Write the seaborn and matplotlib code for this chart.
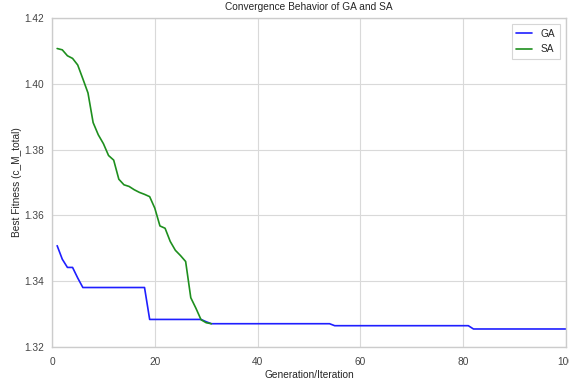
import numpy as np
import pandas as pd
import matplotlib
matplotlib.use("Agg")
import matplotlib.pyplot as plt
import seaborn as sns

# Best fitness per generation (GA) and per iteration (SA)
ga_fitness = (
    [1.3508, 1.3467, 1.3442, 1.3442, 1.3410]
    + [1.3381] * 13
    + [1.3284] * 11
    + [1.3277]
    + [1.3271] * 24
    + [1.3265] * 27
    + [1.3255] * 19
)
sa_fitness = [
    1.4107, 1.4103, 1.4085, 1.4077, 1.4057, 1.4015, 1.3972, 1.3882, 1.3845, 1.3818,
    1.3782, 1.3768, 1.3710, 1.3693, 1.3688, 1.3678, 1.3670, 1.3664, 1.3657, 1.3622,
    1.3568, 1.3561, 1.3521, 1.3494, 1.3478, 1.3460, 1.3350, 1.3318, 1.3283, 1.3274,
    1.3271,
]
ga_steps = list(range(1, len(ga_fitness) + 1))
sa_steps = list(range(1, len(sa_fitness) + 1))

algorithms = ["GA", "SA"]
line_colors = ["#1f1fff", "#1e8f1e"]
x_ticks = [0, 20, 40, 60, 80, 100]
y_ticks = [1.32, 1.34, 1.36, 1.38, 1.40, 1.42]

df = pd.concat([
    pd.DataFrame({"step": ga_steps, "fitness": ga_fitness, "algo": "GA"}),
    pd.DataFrame({"step": sa_steps, "fitness": sa_fitness, "algo": "SA"}),
])

sns.set_style("whitegrid")
plt.rcParams["font.family"] = ["Liberation Sans", "DejaVu Sans"]
plt.rcParams["axes.edgecolor"] = "#cccccc"
plt.rcParams["grid.color"] = "#d9d9d9"

fig, ax = plt.subplots(figsize=(5.69, 3.81), dpi=100)
fig.subplots_adjust(left=0.0914, right=0.9947, top=0.953, bottom=0.089)

sns.lineplot(data=df, x="step", y="fitness", hue="algo", hue_order=algorithms,
             palette=dict(zip(algorithms, line_colors)), linewidth=1.2, ax=ax)

ax.set_xlim(0, 100)
ax.set_ylim(1.32, 1.42)
ax.set_xticks(x_ticks)
ax.set_yticks(y_ticks)
ax.set_yticklabels([f"{v:.2f}" for v in y_ticks])
ax.tick_params(labelsize=7.3, colors="#444444", length=0)
ax.tick_params(axis="y", pad=6)
ax.tick_params(axis="x", pad=7)
ax.set_xlabel("Generation/Iteration", fontsize=7.3, color="#262626", labelpad=2)
ax.set_ylabel("Best Fitness (c_M_total)", fontsize=7.3, color="#262626", labelpad=1)
ax.set_title("Convergence Behavior of GA and SA", fontsize=7.3, color="#262626", pad=6)
for s in ax.spines.values():
    s.set_color("#cccccc")
    s.set_linewidth(1.0)

leg = ax.legend(loc="upper right", fontsize=7.3, frameon=True, fancybox=False,
                handlelength=1.5, handletextpad=0.9, borderpad=0.45,
                labelspacing=0.55, borderaxespad=0.6)
leg.get_frame().set_edgecolor("#cccccc")
leg.get_frame().set_linewidth(0.8)
for t in leg.get_texts():
    t.set_color("#262626")

fig.savefig("out.png", dpi=100)
